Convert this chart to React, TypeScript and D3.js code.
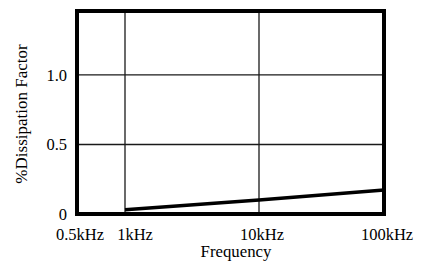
import React from 'react';
import * as d3 from 'd3';

// frequency (Hz) vs % dissipation factor
const freqTicks = [500, 1000, 10000, 100000];
const freqLabels = ['0.5kHz', '1kHz', '10kHz', '100kHz'];
const dfTicks = [0, 0.5, 1.0];
const dfLabels = ['0', '0.5', '1.0'];
const gridFreqs = [1000, 10000];
const gridDf = [0.5, 1.0];

const curveFreq = [1000, 10000, 100000];
const curveDf = [0.03, 0.1, 0.173];

const W = 428;
const H = 261;
const FONT = '"Liberation Serif", "DejaVu Serif", serif';

export default function App() {
  const left = 77;
  const right = 384;
  const top = 11;
  const bottom = 214;

  // the scanned plot is not a perfect log grid, so map each decade piecewise
  const x = d3.scaleLog()
    .domain(freqTicks)
    .range([left, 125, 259, right]);

  const y = d3.scaleLinear()
    .domain([0, 1.46])
    .range([bottom, top]);

  const line = d3.line<number>()
    .x((_, i) => x(curveFreq[i]))
    .y(d => y(d));

  return (
    <svg
      width={W}
      height={H}
      style={{ position: 'fixed', left: 0, top: 0, background: '#fff' }}
      fontFamily={FONT}
    >
      {/* grid */}
      {gridFreqs.map(f => (
        <line key={'gx' + f} x1={x(f)} x2={x(f)} y1={top} y2={bottom}
          stroke="#1a1a1a" strokeWidth={1.3} />
      ))}
      {gridDf.map(v => (
        <line key={'gy' + v} x1={left} x2={right} y1={y(v)} y2={y(v)}
          stroke="#1a1a1a" strokeWidth={1.3} />
      ))}

      {/* curve */}
      <path d={line(curveDf) || ''} fill="none" stroke="#000" strokeWidth={3.5} />

      {/* frame */}
      <rect x={left} y={top} width={right - left} height={bottom - top}
        fill="none" stroke="#000" strokeWidth={4} />

      {/* y ticks */}
      {dfTicks.map((v, i) => (
        <text key={'yt' + v} x={67} y={y(v)} dy="0.35em" textAnchor="end"
          fontSize={16.5} fill="#000">
          {dfLabels[i]}
        </text>
      ))}

      {/* x ticks */}
      {freqTicks.map((f, i) => (
        <text key={'xt' + f} x={x(f)} dx={f === 1000 ? 10 : 3} y={240}
          textAnchor="middle" fontSize={16.5} fill="#000">
          {freqLabels[i]}
        </text>
      ))}

      {/* axis titles */}
      <text x={236} y={256.5} textAnchor="middle" fontSize={16.8} fill="#000">
        Frequency
      </text>
      <text transform="translate(27,114) rotate(-90)" textAnchor="middle"
        fontSize={17} fill="#000">
        %Dissipation Factor
      </text>
    </svg>
  );
}
